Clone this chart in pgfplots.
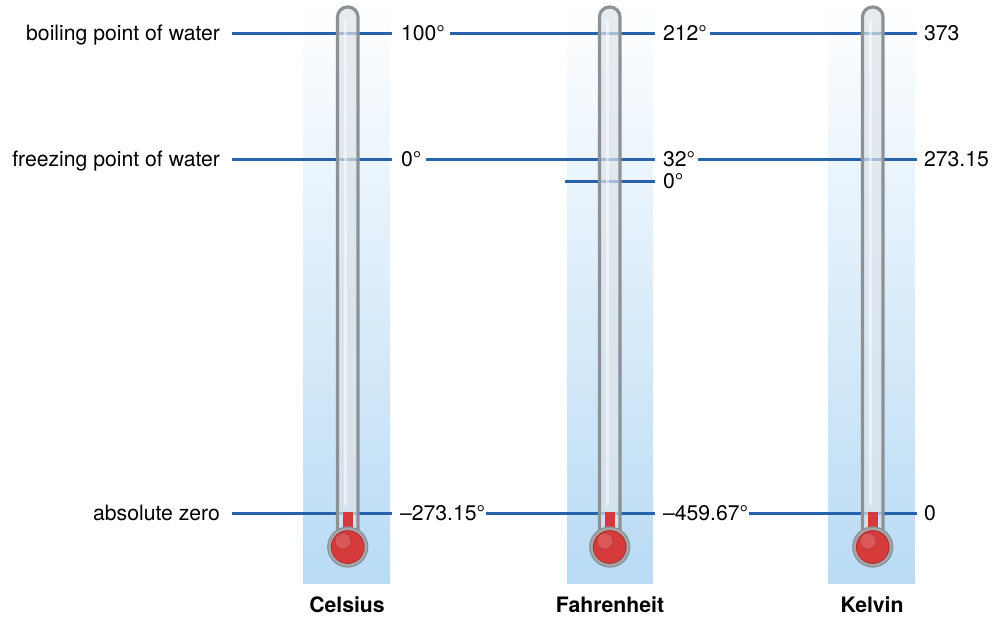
\documentclass[border=0pt]{standalone}
\usepackage{pgfplots}
\pgfplotsset{compat=1.18}
\usepackage{fontspec}
\setmainfont{TeX Gyre Heros}

\definecolor{scaleblue}{HTML}{2862AA}
\definecolor{colblue}{HTML}{B9DBF5}
\definecolor{tubegray}{HTML}{8C9196}
\definecolor{glass}{HTML}{DDE3E9}
\definecolor{mercury}{HTML}{D73A3A}

\tikzset{
  num/.style={inner sep=0pt, outer sep=0pt, anchor=base west, font=\fontsize{10.6}{12}\selectfont},
  side/.style={inner sep=0pt, outer sep=0pt, anchor=base east, font=\fontsize{10.6}{12}\selectfont},
  scale name/.style={inner sep=0pt, outer sep=0pt, anchor=base, font=\fontsize{10.6}{12}\selectfont\bfseries},
}

\begin{document}
\begin{tikzpicture}
\begin{axis}[
    width=496pt, height=309pt, scale only axis,
    xmin=0, xmax=992, ymin=0, ymax=618,
    y dir=reverse,
    hide axis, clip=false,
    ]
% shaded columns behind the thermometers
\addplot[draw=none, top color=white, bottom color=colblue]
    coordinates {(303,0) (390,0) (390,583) (303,583)} -- cycle;
\addplot[draw=none, top color=white, bottom color=colblue]
    coordinates {(567,0) (653,0) (653,583) (567,583)} -- cycle;
\addplot[draw=none, top color=white, bottom color=colblue]
    coordinates {(828,0) (915,0) (915,583) (828,583)} -- cycle;

% reference lines
\pgfplotsset{ref/.style={scaleblue, line width=1.5pt, no marks}}
\addplot[ref] coordinates {(232,33) (392,33)};
\addplot[ref] coordinates {(450,33) (655,33)};
\addplot[ref] coordinates {(710,33) (917,33)};
\addplot[ref] coordinates {(232,159) (392,159)};
\addplot[ref] coordinates {(426,159) (655,159)};
\addplot[ref] coordinates {(698,159) (917,159)};
\addplot[ref] coordinates {(565,181) (655,181)};
\addplot[ref] coordinates {(232,513) (392,513)};
\addplot[ref] coordinates {(486,513) (655,513)};
\addplot[ref] coordinates {(749,513) (917,513)};

% thermometer tubes: translucent glass, grey rim
\pgfplotsset{tube/.style={fill=glass, fill opacity=0.7, draw=tubegray, draw opacity=1,
    line width=1.6pt, rounded corners=5pt, no marks}}
\addplot[tube] coordinates {(337.5,545) (337.5,7) (358,7) (358,545)};
\addplot[tube] coordinates {(599.5,545) (599.5,7) (620,7) (620,545)};
\addplot[tube] coordinates {(862.5,545) (862.5,7) (883,7) (883,545)};
\addplot[white, opacity=0.5, line width=1.5pt, no marks]
    coordinates {(345.5,20) (345.5,505)};
\addplot[white, opacity=0.5, line width=1.5pt, no marks]
    coordinates {(607.5,20) (607.5,505)};
\addplot[white, opacity=0.5, line width=1.5pt, no marks]
    coordinates {(870.5,20) (870.5,505)};

% mercury at absolute zero
\addplot[mercury, line width=5pt, no marks] coordinates {(347.75,512) (347.75,540)};
\addplot[mercury, line width=5pt, no marks] coordinates {(609.75,512) (609.75,540)};
\addplot[mercury, line width=5pt, no marks] coordinates {(872.75,512) (872.75,540)};

% bulbs
\addplot[only marks, mark=*, mark size=10pt, mark options={fill=tubegray!80, draw=tubegray, line width=0.6pt}]
    coordinates {(347.75,547) (609.75,547) (872.75,547)};
\addplot[only marks, mark=*, mark size=8.2pt, mark options={fill=mercury, draw=mercury!80!black, line width=0.4pt}]
    coordinates {(347.75,547) (609.75,547) (872.75,547)};
\addplot[only marks, mark=*, mark size=4pt, mark options={fill=white, draw=none, opacity=0.15}]
    coordinates {(343,541) (605,541) (868,541)};

% labels
\node[side] at (axis cs:220,40) {boiling point of water};
\node[side] at (axis cs:220,166) {freezing point of water};
\node[side] at (axis cs:220,520) {absolute zero};

\node[num] at (axis cs:401,40) {100°};
\node[num] at (axis cs:663,40) {212°};
\node[num] at (axis cs:924,40) {373};
\node[num] at (axis cs:401,166) {0°};
\node[num] at (axis cs:663,166) {32°};
\node[num] at (axis cs:924,166) {273.15};
\node[num] at (axis cs:663,188) {0°};
\node[num] at (axis cs:400,520) {–273.15°};
\node[num] at (axis cs:663,520) {–459.67°};
\node[num] at (axis cs:924,520) {0};

\node[scale name] at (axis cs:347,612) {Celsius};
\node[scale name] at (axis cs:610,612) {Fahrenheit};
\node[scale name] at (axis cs:872,612) {Kelvin};
\end{axis}
\pgfresetboundingbox
\path[use as bounding box] (0,0) rectangle (496pt,309pt);
\end{tikzpicture}
\end{document}
